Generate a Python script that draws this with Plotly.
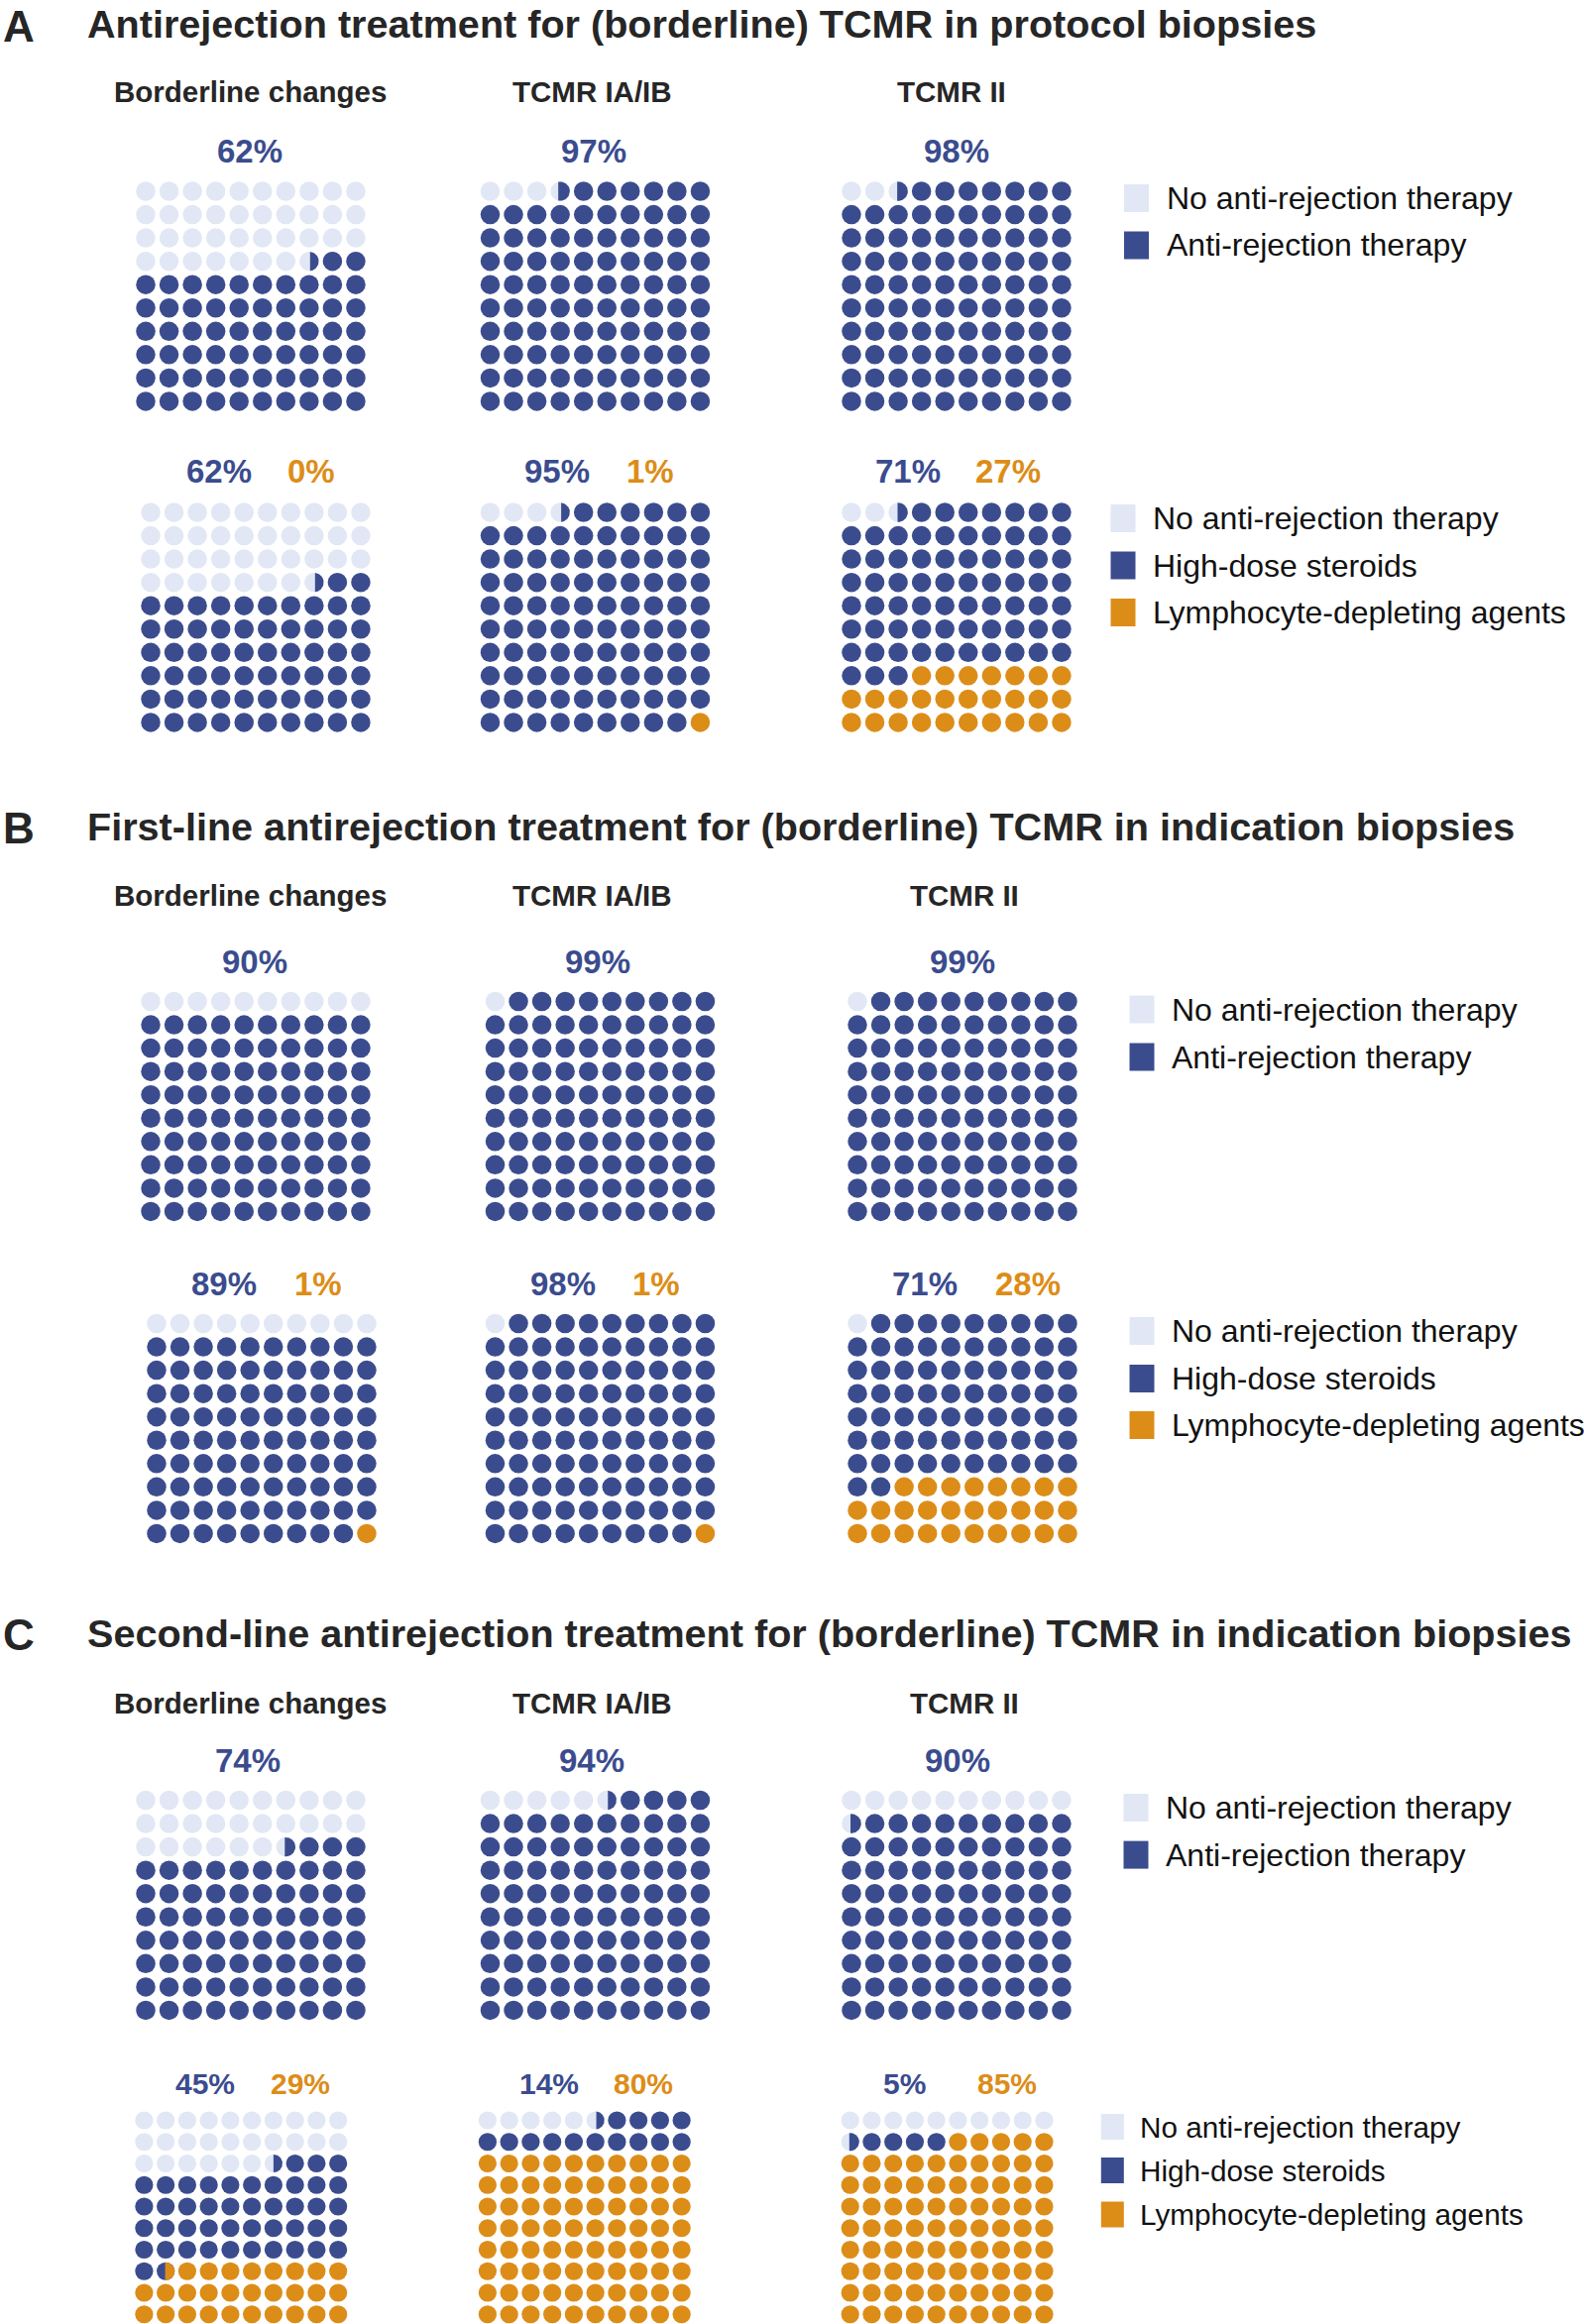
import numpy as np
import plotly.graph_objects as go

W, H = 1598, 2345

# ---------------- data ----------------
section_letters = ["A", "B", "C"]
section_titles = [
    "Antirejection treatment for (borderline) TCMR in protocol biopsies",
    "First-line antirejection treatment for (borderline) TCMR in indication biopsies",
    "Second-line antirejection treatment for (borderline) TCMR in indication biopsies",
]
group_names = ["Borderline changes", "TCMR IA/IB", "TCMR II"]
legend_any = ["No anti-rejection therapy", "Anti-rejection therapy"]
legend_type = ["No anti-rejection therapy", "High-dose steroids", "Lymphocyte-depleting agents"]

# percentages per group (Borderline, TCMR IA/IB, TCMR II)
A_none = [37.55, 3.4, 2.45]
A_therapy = [62.45, 96.6, 97.55]
A_type_none = [37.55, 3.55, 2.47]
A_steroids = [62.45, 95.45, 70.53]
A_lda = [0.0, 1.0, 27.0]

B_none = [10.0, 1.0, 1.0]
B_therapy = [90.0, 99.0, 99.0]
B_type_none = [10.0, 1.0, 1.0]
B_steroids = [89.0, 98.0, 71.0]
B_lda = [1.0, 1.0, 28.0]

C_none = [26.45, 5.55, 10.45]
C_therapy = [73.55, 94.45, 89.55]
C_type_none = [26.5, 5.55, 10.45]
C_steroids = [44.97, 14.45, 4.55]
C_lda = [28.53, 80.0, 85.0]

# ---------------- style ----------------
COL_NONE = "#e1e7f5"
COL_BLUE = "#3b4c8e"
COL_ORANGE = "#dc8d18"
TXT_DARK = "#262626"
TXT_LEG = "#121212"
FONT = "Liberation Sans, Arial, Helvetica, sans-serif"

geom = [
    dict(title_y=24, sub_y=92.5, sub_x=[252, 597, 960],
         top=dict(y0=193, x0=[147, 494.5, 859], pitch=23.55, d=19.5, pct_y=152.5,
                  pct_x=[252, 599, 964.5], fs=33),
         bot=dict(y0=517, x0=[152, 494.5, 859], pitch=23.55, d=19.5, pct_y=475.5,
                  pct_x=[(221, 314), (562, 656), (916, 1017)], fs=33),
         leg_top=dict(sq_x=1146.5, text_x=1175, ys=[200, 247.5], fs=32, sq=(25, 28)),
         leg_bot=dict(sq_x=1133, text_x=1161, ys=[523, 570.5, 618], fs=32, sq=(25, 28))),
    dict(title_y=833.5, sub_y=903.5, sub_x=[252, 597, 972.6],
         top=dict(y0=1010.5, x0=[152, 499.5, 865], pitch=23.55, d=19.5, pct_y=970,
                  pct_x=[257, 603, 970.8], fs=33),
         bot=dict(y0=1335.5, x0=[158, 499.5, 865], pitch=23.55, d=19.5, pct_y=1295,
                  pct_x=[(226, 321), (567.6, 662), (932.6, 1036.6)], fs=33),
         leg_top=dict(sq_x=1152, text_x=1180, ys=[1018.5, 1066.5], fs=32, sq=(25, 28)),
         leg_bot=dict(sq_x=1152, text_x=1180, ys=[1343, 1391, 1438], fs=32, sq=(25, 28))),
    dict(title_y=1647.5, sub_y=1718.5, sub_x=[252, 597, 972.6],
         top=dict(y0=1816.5, x0=[147, 494.5, 859], pitch=23.55, d=19.5, pct_y=1776,
                  pct_x=[250, 597, 965.6], fs=33),
         bot=dict(y0=2139.5, x0=[145.4, 491.9, 857.7], pitch=21.75, d=18.2, pct_y=2102,
                  pct_x=[(207, 302.5), (554, 649), (912, 1015.6)], fs=30),
         leg_top=dict(sq_x=1146, text_x=1174, ys=[1824, 1871.6], fs=32, sq=(25, 28)),
         leg_bot=dict(sq_x=1122.3, text_x=1148, ys=[2146, 2190, 2234.5], fs=29.7, sq=(23, 26))),
]

fig = go.Figure()
layout_axes = {}
annotations = []
shapes = []
axis_n = [0]


def px_x(x):
    return x / W


def px_y(y):
    return 1 - y / H


def add_text(text, x, y, size, color, bold=False, xanchor="center"):
    t = f"<b>{text}</b>" if bold else text
    annotations.append(dict(text=t, x=px_x(x), y=px_y(y), xref="paper", yref="paper",
                            xanchor=xanchor, yanchor="middle", showarrow=False,
                            font=dict(family=FONT, size=size, color=color)))


def add_waffle(values, colors, cx0, cy0, pitch, diam):
    axis_n[0] += 1
    n = axis_n[0]
    suf = "" if n == 1 else str(n)
    pad = min(pitch / 2, H - (cy0 + 9 * pitch) - 0.2)
    layout_axes["xaxis" + suf] = dict(
        domain=[(cx0 - pad) / W, (cx0 + 9 * pitch + pad) / W],
        range=[-pad / pitch, 9 + pad / pitch], visible=False, fixedrange=True)
    layout_axes["yaxis" + suf] = dict(
        domain=[1 - (cy0 + 9 * pitch + pad) / H, 1 - (cy0 - pad) / H],
        range=[9 + pad / pitch, -pad / pitch], visible=False, fixedrange=True)
    bounds = np.concatenate([[0.0], np.cumsum(values)])
    xs, ys, cs = [], [], []
    partials = []
    for k in range(100):
        col, row = k % 10, k // 10
        segs = []
        for c in range(len(values)):
            a = max(bounds[c], k)
            b = min(bounds[c + 1], k + 1)
            if b - a > 1e-6:
                segs.append((c, a - k, b - k))
        if not segs:
            segs = [(len(values) - 1, 0, 1)]
        xs.append(col)
        ys.append(row)
        cs.append(colors[segs[0][0]])
        for c, fa, fb in segs[1:]:
            partials.append((col, row, c, fa, fb))
    fig.add_trace(go.Scatter(x=xs, y=ys, mode="markers", xaxis="x" + suf, yaxis="y" + suf,
                             marker=dict(size=diam, color=cs, line=dict(width=0)),
                             cliponaxis=False, hoverinfo="skip", showlegend=False))
    r = diam / 2 / pitch
    for col, row, c, fa, fb in partials:
        x1 = col - r + fa * 2 * r
        x2 = col - r + fb * 2 * r
        t = np.linspace(x1, x2, 60)
        h = np.sqrt(np.clip(r ** 2 - (t - col) ** 2, 0, None))
        px = np.concatenate([t, t[::-1]])
        py = np.concatenate([row - h, (row + h)[::-1]])
        fig.add_trace(go.Scatter(x=px, y=py, mode="lines", fill="toself", fillcolor=colors[c],
                                 line=dict(width=0, color=colors[c]), xaxis="x" + suf,
                                 yaxis="y" + suf, hoverinfo="skip", showlegend=False))


def add_legend(items, colors, g):
    w, hh = g["sq"]
    for label, col, y in zip(items, colors, g["ys"]):
        shapes.append(dict(type="rect", xref="paper", yref="paper",
                           x0=px_x(g["sq_x"] - w / 2), x1=px_x(g["sq_x"] + w / 2),
                           y0=px_y(y + hh / 2), y1=px_y(y - hh / 2),
                           fillcolor=col, line=dict(width=0)))
        add_text(label, g["text_x"], y, g["fs"], TXT_LEG, xanchor="left")


data_any = [(A_none, A_therapy), (B_none, B_therapy), (C_none, C_therapy)]
data_type = [(A_type_none, A_steroids, A_lda), (B_type_none, B_steroids, B_lda),
             (C_type_none, C_steroids, C_lda)]

for s in range(3):
    g = geom[s]
    add_text(section_letters[s], 1, g["title_y"] + 2, 44, TXT_DARK, bold=True, xanchor="left")
    add_text(section_titles[s], 86, g["title_y"], 39.6, TXT_DARK, bold=True, xanchor="left")
    none_v, yes_v = data_any[s]
    tn_v, st_v, ld_v = data_type[s]
    for i in range(3):
        add_text(group_names[i], g["sub_x"][i], g["sub_y"], 29.5, TXT_DARK, bold=True)
        gt = g["top"]
        add_waffle([none_v[i], yes_v[i]], [COL_NONE, COL_BLUE], gt["x0"][i], gt["y0"],
                   gt["pitch"], gt["d"])
        add_text(f"{round(yes_v[i])}%", gt["pct_x"][i], gt["pct_y"], gt["fs"], COL_BLUE, bold=True)
        gb = g["bot"]
        add_waffle([tn_v[i], st_v[i], ld_v[i]], [COL_NONE, COL_BLUE, COL_ORANGE],
                   gb["x0"][i], gb["y0"], gb["pitch"], gb["d"])
        add_text(f"{round(st_v[i])}%", gb["pct_x"][i][0], gb["pct_y"], gb["fs"], COL_BLUE, bold=True)
        add_text(f"{round(ld_v[i])}%", gb["pct_x"][i][1], gb["pct_y"], gb["fs"], COL_ORANGE, bold=True)
    add_legend(legend_any, [COL_NONE, COL_BLUE], g["leg_top"])
    add_legend(legend_type, [COL_NONE, COL_BLUE, COL_ORANGE], g["leg_bot"])

fig.update_layout(
    width=W, height=H,
    margin=dict(l=0, r=0, t=0, b=0, pad=0),
    paper_bgcolor="white", plot_bgcolor="rgba(0,0,0,0)",
    showlegend=False,
    annotations=annotations, shapes=shapes,
    **layout_axes,
)

fig.write_html("out.html", post_script="document.body.style.margin='0';document.body.style.overflow='hidden';",
               config={"displayModeBar": False})
